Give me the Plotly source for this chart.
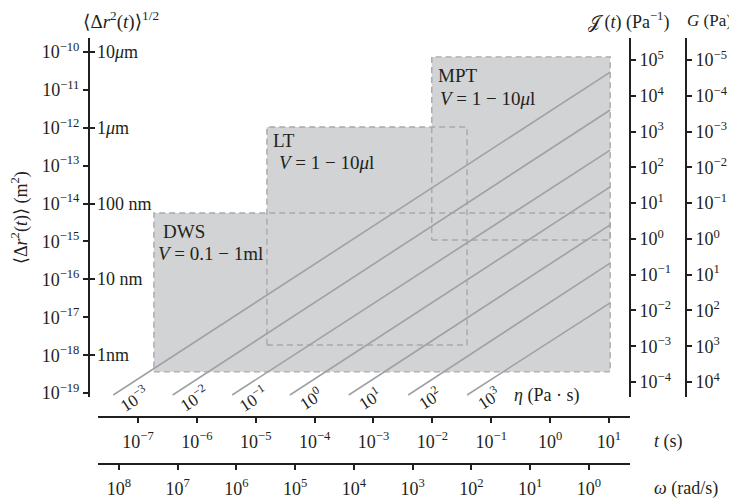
import plotly.graph_objects as go

# The page body has an 8px margin, so the figure is sized and placed to compensate.
OFF = 8
W, H = 737 - OFF, 499 - OFF
INK = "#231f20"
FILL = "#d2d3d5"
DASH = "#a7a9ac"
LINEC = "#9fa1a4"
FONT = "Liberation Serif, DejaVu Serif, serif"

# ---------------- data (log10 units) ----------------
msd_decades = [-10, -11, -12, -13, -14, -15, -16, -17, -18, -19]
length_decades = [-10, -12, -14, -16, -18]
length_labels = ["10<i>μ</i>m", "1<i>μ</i>m", "100 nm", "10 nm", "1nm"]
t_decades = [-7, -6, -5, -4, -3, -2, -1, 0, 1]
omega_decades = [8, 7, 6, 5, 4, 3, 2, 1, 0]
J_decades = [5, 4, 3, 2, 1, 0, -1, -2, -3, -4]
G_decades = [-5, -4, -3, -2, -1, 0, 1, 2, 3, 4]

box_names = ["DWS", "LT", "MPT"]
box_volumes = ["<i>V</i> = 0.1 − 1ml", "<i>V</i> = 1 − 10<i>μ</i>l", "<i>V</i> = 1 − 10<i>μ</i>l"]
box_log_t0 = [-6.73, -4.81, -2.01]
box_log_t1 = [1.02, -1.41, 1.02]
box_log_msd0 = [-18.44, -17.73, -14.96]
box_log_msd1 = [-14.25, -11.98, -10.13]

eta_decades = [-3, -2, -1, 0, 1, 2, 3]
line_log_t_start = [-7.42, -6.41, -5.40, -4.42, -3.42, -2.41, -1.41]
line_log_msd_start = [-19.05, -19.05, -19.05, -19.05, -19.05, -19.05, -19.05]
line_log_t_end = [1.02, 1.02, 1.02, 1.02, 1.02, 1.02, 1.02]
line_log_msd_end = [-10.53, -11.53, -12.59, -13.56, -14.56, -15.57, -16.62]


def sup(d):
    s = str(d).replace("-", "−")
    return "10<sup>" + s + "</sup>"


def px(x):
    return (x - OFF) / W


def py(y):
    return 1 - (y - OFF) / H


fig = go.Figure()

# filled boxes
for i in range(len(box_names)):
    xs = [10 ** box_log_t0[i], 10 ** box_log_t1[i], 10 ** box_log_t1[i], 10 ** box_log_t0[i], 10 ** box_log_t0[i]]
    ys = [10 ** box_log_msd0[i], 10 ** box_log_msd0[i], 10 ** box_log_msd1[i], 10 ** box_log_msd1[i], 10 ** box_log_msd0[i]]
    fig.add_trace(go.Scatter(x=xs, y=ys, mode="lines", fill="toself", fillcolor=FILL,
                             line=dict(width=0, color=FILL), hoverinfo="skip", showlegend=False))
# dashed outlines
for i in range(len(box_names)):
    xs = [10 ** box_log_t0[i], 10 ** box_log_t1[i], 10 ** box_log_t1[i], 10 ** box_log_t0[i], 10 ** box_log_t0[i]]
    ys = [10 ** box_log_msd0[i], 10 ** box_log_msd0[i], 10 ** box_log_msd1[i], 10 ** box_log_msd1[i], 10 ** box_log_msd0[i]]
    fig.add_trace(go.Scatter(x=xs, y=ys, mode="lines",
                             line=dict(width=1.4, color=DASH, dash="6px,4px"),
                             hoverinfo="skip", showlegend=False))
# viscosity lines
for i in range(len(eta_decades)):
    fig.add_trace(go.Scatter(x=[10 ** line_log_t_start[i], 10 ** line_log_t_end[i]],
                             y=[10 ** line_log_msd_start[i], 10 ** line_log_msd_end[i]],
                             mode="lines", line=dict(width=1.6, color=LINEC),
                             hoverinfo="skip", showlegend=False))

# invisible anchors so that the extra axes are drawn
for xa, ya, xv, yv in [("x", "y2", 1, 1), ("x", "y3", 1, 1), ("x", "y4", 1, 1e-15), ("x2", "y", 1, 1e-15)]:
    fig.add_trace(go.Scatter(x=[xv], y=[yv], xaxis=xa, yaxis=ya, mode="markers",
                             marker=dict(opacity=0, size=1), hoverinfo="skip", showlegend=False))

tickfont = dict(family=FONT, size=18, color=INK)
common = dict(type="log", showgrid=False, zeroline=False, showline=True, linecolor=INK,
              linewidth=2, ticks="outside", tickcolor=INK, tickwidth=1.5, ticklen=5,
              tickfont=tickfont, fixedrange=True)

ydom = [py(397), py(38)]
xdom = [px(98), px(630)]

fig.update_layout(
    width=W, height=H,
    margin=dict(l=0, r=0, t=0, b=0, autoexpand=False),
    paper_bgcolor="white", plot_bgcolor="rgba(0,0,0,0)",
    showlegend=False,
    xaxis=dict(**common, domain=xdom, range=[-7.679, 1.357], anchor="free", position=py(417),
               side="bottom", ticklabelstandoff=3,
               tickvals=[10 ** d for d in t_decades], ticktext=[sup(d) for d in t_decades]),
    xaxis2=dict(**common, range=[8.357, -0.698], overlaying="x", anchor="free", position=py(464),
                side="bottom", ticklabelstandoff=3,
                tickvals=[10 ** d for d in omega_decades], ticktext=[sup(d) for d in omega_decades]),
    yaxis=dict(**common, domain=ydom, range=[-19.103, -9.631], anchor="free", position=px(89),
               side="left", tickvals=[10 ** d for d in msd_decades], ticktext=[sup(d) for d in msd_decades]),
    yaxis4=dict(type="log", showgrid=False, zeroline=False, showline=False, range=[-19.103, -9.631],
                overlaying="y", anchor="free", position=px(89), side="left", ticks="inside",
                showticklabels=False, tickcolor=INK, tickwidth=1.5, ticklen=5,
                tickvals=[10 ** d for d in length_decades], fixedrange=True),
    yaxis2=dict(**common, range=[-4.419, 5.615], overlaying="y", anchor="free", position=px(630),
                side="right", tickvals=[10 ** d for d in J_decades], ticktext=[sup(d) for d in J_decades]),
    yaxis3=dict(**common, range=[4.419, -5.615], overlaying="y", anchor="free", position=px(686),
                side="right", tickvals=[10 ** d for d in G_decades], ticktext=[sup(d) for d in G_decades]),
)

ann = []


def A(text, x, y, size=18, xanchor="left", yanchor="middle", angle=0):
    ann.append(dict(text=text, x=px(x), y=py(y), xref="paper", yref="paper", showarrow=False,
                    xanchor=xanchor, yanchor=yanchor, textangle=angle,
                    font=dict(family=FONT, size=size, color=INK)))


# axis titles
A("⟨Δ<i>r</i><sup>2</sup>(<i>t</i>)⟩<sup>1/2</sup>", 81, 21, size=19)
A("𝒥 (<i>t</i>) (Pa<sup>−1</sup>)", 586, 21)
A("<i>G</i> (Pa)", 685, 21, size=17)
A("⟨Δ<i>r</i><sup>2</sup>(<i>t</i>)⟩ (m<sup>2</sup>)", 20, 218, size=18, xanchor="center", angle=-90)
A("<i>t</i> (s)", 652, 441)
A("<i>ω</i> (rad/s)", 652, 488)
A("<i>η</i> (Pa · s)", 512, 395)

# length labels on the inner side of the left axis
for d, lab in zip(length_decades, length_labels):
    ann.append(dict(text=lab, x=px(95), y=d, xref="paper", yref="y", showarrow=False,
                    xanchor="left", yanchor="middle", font=dict(family=FONT, size=18, color=INK)))

# box labels
box_label_pos = [(161, 231, 156, 253), (271, 141, 277, 162), (436, 76, 438, 98)]
for i, (x1, y1, x2, y2) in enumerate(box_label_pos):
    A(box_names[i], x1, y1, size=19)
    A(box_volumes[i], x2, y2, size=19)

# eta labels, attached to line starts
for i, d in enumerate(eta_decades):
    ann.append(dict(text=sup(d), x=line_log_t_start[i], y=line_log_msd_start[i], xref="x", yref="y",
                    showarrow=False, xanchor="center", yanchor="middle", textangle=-33,
                    xshift=21, yshift=-3, font=dict(family=FONT, size=17, color=INK)))

fig.update_layout(annotations=ann)
fig.write_html("out.html")
